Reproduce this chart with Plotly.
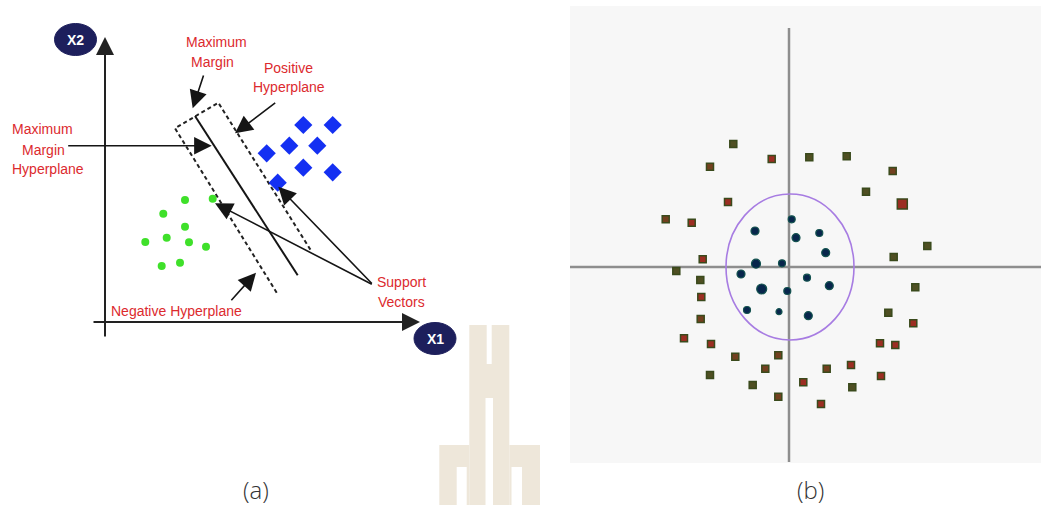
import plotly.graph_objects as go

W, H = 1041, 505

# ---------------- panel (a): linear SVM sketch (units relative to the X1/X2 origin)
green_x = [80, 107.7, 58.3, 80, 40.3, 61.7, 84, 101, 56.7, 75]
green_y = [122, 123.3, 108.3, 95.3, 80, 84.3, 79.7, 75.3, 56, 59.3]
blue_x = [198.3, 227.7, 161.7, 184.3, 212.3, 198.3, 227.7, 172.7]
blue_y = [197, 197, 168.7, 176.3, 176.3, 154.3, 149.7, 139.3]

hyperplane_x = [90, 192.7]
hyperplane_y = [206, 46.7]
margin_x = [171.7, 70, 113.3, 206.7]
margin_y = [29.3, 193.7, 219.3, 70.3]

# callouts: (tail_x, tail_y, head_x, head_y)
callouts = [
    (99, 248, 87.7, 213.7),
    (171.7, 220.3, 130, 188.7),
    (-38.3, 176.3, 106.7, 176.3),
    (268.3, 37, 173.3, 135.3),
    (268.3, 37, 110, 118.7),
    (125, 20.3, 151, 49.3),
]
labels_a = [
    ("Maximum", 111, 280), ("Margin", 107.7, 260),
    ("Positive", 183.7, 254.3), ("Hyperplane", 183.7, 234.7),
    ("Maximum", -62.3, 192.7), ("Margin", -61.7, 172), ("Hyperplane", -57.3, 152.7),
    ("Support", 296.7, 40.3), ("Vectors", 296.7, 20.3),
    ("Negative Hyperplane", 71.7, 11),
]

# ---------------- panel (b): non-linear boundary (units relative to the centre)
ring_x = [-55.7, -17.3, 20.3, 57.7, -79, 103.7, 77, 113.3, -61, -123.3, -97.3, 138.3,
          104.7, -86.3, -112.7, -88.7, 126.3, -87.7, 99.3, -88.3, 124.3, -105, -78,
          91, 106.3, -53.7, -10.7, -23.7, 37.7, 62, -79, 92, -36.3, 14.3, 63.3, -10.7, 32]
ring_y = [123, 108, 109.7, 110.7, 100.3, 96, 75.3, 63, 65, 47.7, 44.3, 21,
          10, 7.7, -4, -13, -20.3, -30, -45.7, -52, -56.3, -71.3, -77,
          -76.3, -78, -89.7, -88.3, -101.7, -101.7, -98, -108, -109, -118, -115.3, -120.3, -129.7, -137]
ring_tone = ["g", "r", "g", "g", "b", "b", "g", "r", "r", "b", "r", "g",
             "g", "r", "g", "g", "g", "r", "g", "b", "r", "r", "r",
             "r", "r", "b", "b", "b", "b", "r", "g", "r", "g", "r", "g", "b", "r"]
core_x = [2.7, -34, 7, 30.3, 36.7, -33, -7, -48, 18, 40.3, -27.3, -1.7, -42, -10, 19.3]
core_y = [47.7, 36, 29.3, 34, 14.3, 3.3, 3.7, -7, -10.7, -18.7, -22, -24, -43, -44.7, -48.7]
boundary_rx, boundary_ry = 64, 73

tone_colors = {"r": "#9c2e22", "b": "#73401f", "g": "#4f4f22"}
core_px = [7, 8, 8, 7, 8, 9, 7, 8, 7, 8, 10, 7, 7, 6, 8]
ring_px = [7] * len(ring_x)
ring_px[7] = 10


def px(x):
    return x / W


def py(y):
    return 1 - y / H


fig = go.Figure()

# panel (a) traces
fig.add_trace(go.Scatter(x=margin_x, y=margin_y, mode="lines",
                         line=dict(color="#222", width=2, dash="4px,3px"),
                         xaxis="x", yaxis="y", hoverinfo="skip"))
fig.add_trace(go.Scatter(x=hyperplane_x, y=hyperplane_y, mode="lines",
                         line=dict(color="#151515", width=2),
                         xaxis="x", yaxis="y", hoverinfo="skip"))
fig.add_trace(go.Scatter(x=green_x, y=green_y, mode="markers",
                         marker=dict(symbol="circle", size=8, color="#3fe02a", opacity=1),
                         xaxis="x", yaxis="y"))
fig.add_trace(go.Scatter(x=blue_x, y=blue_y, mode="markers",
                         marker=dict(symbol="diamond", size=14, color="#1430f2", opacity=1),
                         xaxis="x", yaxis="y"))

# panel (b) traces
fig.add_trace(go.Scatter(x=[-219, 252], y=[0, 0], mode="lines",
                         line=dict(color="#8e8e8e", width=2.5),
                         xaxis="x2", yaxis="y2", hoverinfo="skip"))
fig.add_trace(go.Scatter(x=[0, 0], y=[239, -195], mode="lines",
                         line=dict(color="#8e8e8e", width=2.5),
                         xaxis="x2", yaxis="y2", hoverinfo="skip"))
fig.add_trace(go.Scatter(x=ring_x, y=ring_y, mode="markers",
                         marker=dict(symbol="square", size=ring_px, opacity=1,
                                     color=[tone_colors[t] for t in ring_tone],
                                     line=dict(color="#3a4a1c", width=1.5)),
                         xaxis="x2", yaxis="y2"))
fig.add_trace(go.Scatter(x=core_x, y=core_y, mode="markers",
                         marker=dict(symbol="circle", size=core_px, color="#08264c",
                                     opacity=1, line=dict(color="#13524f", width=1.2)),
                         xaxis="x2", yaxis="y2"))

shapes = []
# grey background of panel (b)
shapes.append(dict(type="rect", xref="paper", yref="paper",
                   x0=px(570), x1=1, y0=py(463), y1=py(6),
                   fillcolor="#f7f7f7", line=dict(width=0), layer="below"))
# decision boundary
shapes.append(dict(type="circle", xref="x2", yref="y2",
                   x0=1 - boundary_rx, x1=1 + boundary_rx,
                   y0=-boundary_ry, y1=boundary_ry,
                   line=dict(color="#a77ce2", width=1.6)))
# axis badges
for cx, cy in [(-29.5, 282.5), (330, -16.5)]:
    shapes.append(dict(type="circle", xref="x", yref="y",
                       x0=cx - 21, x1=cx + 21, y0=cy - 16, y1=cy + 16,
                       fillcolor="#1d1f5c", line=dict(color="#1d1f5c", width=1)))

# watermark emblem
tan = "#eee7da"
for x0, x1, y0, y1, c in [
    (469.3, 509.3, 325, 505, tan),
    (439.3, 469.3, 445, 505, tan),
    (509.3, 540, 445, 505, tan),
    (486.7, 491.7, 325, 364, "white"),
    (485.5, 493, 398, 505, "white"),
    (456.7, 466.7, 467, 505, "white"),
    (511.5, 522, 467, 505, "white"),
]:
    shapes.append(dict(type="rect", xref="paper", yref="paper",
                       x0=px(x0), x1=px(x1), y0=py(y1), y1=py(y0),
                       fillcolor=c, line=dict(width=0), layer="below"))

annotations = []
# X1 / X2 axes with arrow tips
annotations.append(dict(x=0, y=285, ax=0, ay=-16, xref="x", yref="y", axref="x", ayref="y",
                        text="", showarrow=True, arrowhead=2, arrowsize=1.8,
                        arrowwidth=2, arrowcolor="#222", standoff=0))
annotations.append(dict(x=315, y=0, ax=-13, ay=0, xref="x", yref="y", axref="x", ayref="y",
                        text="", showarrow=True, arrowhead=2, arrowsize=1.8,
                        arrowwidth=2, arrowcolor="#222", standoff=0))
for tx, ty, hx, hy in callouts:
    annotations.append(dict(x=hx, y=hy, ax=tx, ay=ty, xref="x", yref="y",
                            axref="x", ayref="y", text="", showarrow=True,
                            arrowhead=2, arrowsize=2.2, arrowwidth=1.6,
                            arrowcolor="#151515", standoff=0))
for txt, x, y in labels_a:
    annotations.append(dict(x=x, y=y, xref="x", yref="y", text=txt, showarrow=False,
                            xanchor="center", yanchor="middle",
                            font=dict(family="Liberation Sans, Arial", size=14,
                                      color="#dc2a2e")))
annotations.append(dict(x=-29.5, y=282.5, xref="x", yref="y", text="<b>X2</b>",
                        showarrow=False, xanchor="center", yanchor="middle",
                        font=dict(family="Liberation Sans, Arial", size=14, color="white")))
annotations.append(dict(x=330, y=-16.5, xref="x", yref="y", text="<b>X1</b>",
                        showarrow=False, xanchor="center", yanchor="middle",
                        font=dict(family="Liberation Sans, Arial", size=14, color="white")))
for txt, x in [("(a)", 256), ("(b)", 810)]:
    annotations.append(dict(x=px(x), y=py(489), xref="paper", yref="paper", text=txt,
                            showarrow=False, xanchor="center", yanchor="middle",
                            font=dict(family="Open Sans", size=24, color="#333",
                                      weight=300)))

hidden = dict(visible=False, showgrid=False, zeroline=False, fixedrange=True)
fig.update_layout(
    width=W, height=H,
    margin=dict(l=0, r=0, t=0, b=0),
    paper_bgcolor="white", plot_bgcolor="rgba(0,0,0,0)",
    showlegend=False,
    xaxis=dict(domain=[0, px(470)], range=[-105, 365], **hidden),
    yaxis=dict(domain=[py(360), 1], range=[-38, 322], **hidden),
    xaxis2=dict(domain=[px(570), 1], range=[-219, 252], anchor="y2", **hidden),
    yaxis2=dict(domain=[py(462), py(5)], range=[-195, 262], anchor="x2", **hidden),
    shapes=shapes,
    annotations=annotations,
)

fig.write_html("out.html")
